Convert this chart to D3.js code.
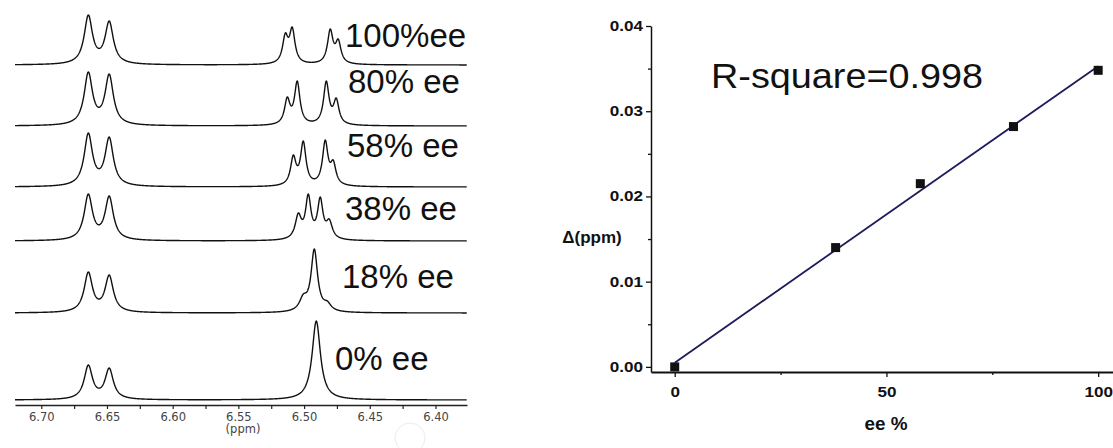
<!DOCTYPE html>
<html>
<head>
<meta charset="utf-8">
<script src="https://cdn.jsdelivr.net/npm/d3@7"></script>
<style>
  html, body { margin: 0; padding: 0; background: #fff; }
  svg { display: block; }
</style>
</head>
<body>
<svg id="fig" width="1113" height="448"></svg>
<script>
// ---------- 1H NMR stack: vinyl region at each enantiomeric excess ----------
const spectraLabels = ["100%ee", "80% ee", "58% ee", "38% ee", "18% ee", "0% ee"];

// peak lists: [shift (ppm), apex intensity, half-width at half-height (ppm)]
const peaks100 = [[6.6642, 50, 0.0038], [6.6483, 44, 0.0038],
                  [6.5143, 32, 0.0025], [6.5090, 38, 0.0025], [6.4801, 36, 0.0025], [6.4740, 26, 0.0025]];
const peaks80  = [[6.6642, 54, 0.0038], [6.6483, 52, 0.0038],
                  [6.5128, 29, 0.0025], [6.5052, 45, 0.0025], [6.4831, 45, 0.0025], [6.4755, 28, 0.0025]];
const peaks58  = [[6.6642, 54, 0.0038], [6.6483, 50, 0.0038],
                  [6.5082, 32, 0.0025], [6.5006, 46, 0.0025], [6.4839, 47, 0.0025], [6.4778, 27, 0.0025]];
const peaks38  = [[6.6642, 47, 0.0038], [6.6483, 45, 0.0038],
                  [6.5044, 28, 0.0028], [6.4968, 47, 0.0025], [6.4877, 44, 0.0025], [6.4808, 22, 0.0028]];
const peaks18  = [[6.6642, 41, 0.0038], [6.6483, 38, 0.0038],
                  [6.5006, 19, 0.0035], [6.4922, 64, 0.0030], [6.4823, 12, 0.0035]];
const peaks0   = [[6.6642, 35, 0.0038], [6.6483, 32, 0.0038],
                  [6.4907, 79, 0.0038]];
const spectraPeaks = [peaks100, peaks80, peaks58, peaks38, peaks18, peaks0];

const ppmTicks = [6.70, 6.65, 6.60, 6.55, 6.50, 6.45, 6.40];
const ppmMinorTicks = [6.675, 6.625, 6.575, 6.525, 6.475, 6.425, 6.375];

// ---------- calibration: chemical-shift difference vs ee ----------
const eeValues    = [0, 38, 58, 80, 100];
const deltaValues = [0.0000, 0.0140, 0.0215, 0.0282, 0.0348];
const deltaTicks  = [0.00, 0.01, 0.02, 0.03, 0.04];
const deltaMinor  = [0.005, 0.015, 0.025, 0.035];
const eeTicks     = [0, 50, 100];
const eeMinor     = [25, 75];
const rSquareText = "R-square=0.998";

const svg = d3.select("#fig");

// ===== left panel =====
const stackOffsets = [335, 274, 213, 159, 87, 0];
const labelPos = [[345, 47], [348, 93], [347, 157], [345, 220], [342, 288], [335, 370]];

const xPpm = d3.scaleLinear().domain([6.72, 6.376]).range([15, 467]);
const yInt = d3.scaleLinear().domain([0, 335]).range([400, 65]);

const lorentz = (x, x0, w) => 1 / (1 + ((x - x0) / w) ** 2);

// amplitudes so that the summed line shape passes through each listed apex
function amplitudes(pk) {
  const n = pk.length;
  const M = pk.map(pi => pk.map(pj => lorentz(pi[0], pj[0], pj[2])));
  const b = pk.map(p => p[1]);
  for (let c = 0; c < n; c++) {
    let piv = c;
    for (let r = c + 1; r < n; r++) if (Math.abs(M[r][c]) > Math.abs(M[piv][c])) piv = r;
    [M[c], M[piv]] = [M[piv], M[c]]; [b[c], b[piv]] = [b[piv], b[c]];
    for (let r = c + 1; r < n; r++) {
      const f = M[r][c] / M[c][c];
      for (let k = c; k < n; k++) M[r][k] -= f * M[c][k];
      b[r] -= f * b[c];
    }
  }
  const a = new Array(n).fill(0);
  for (let r = n - 1; r >= 0; r--) {
    let s = b[r];
    for (let k = r + 1; k < n; k++) s -= M[r][k] * a[k];
    a[r] = s / M[r][r];
  }
  return a.map(v => Math.max(0, v));
}

const grid = d3.range(6.72, 6.376, -0.0002);
const left = svg.append("g");

spectraPeaks.forEach((pk, i) => {
  const amp = amplitudes(pk);
  const pts = grid.map(x => [x, pk.reduce((s, p, j) => s + amp[j] * lorentz(x, p[0], p[2]), 0)]);
  const line = d3.line()
    .x(d => xPpm(d[0]))
    .y(d => yInt(stackOffsets[i] + d[1]));
  left.append("path")
    .attr("d", line(pts))
    .attr("fill", "none")
    .attr("stroke", "#111")
    .attr("stroke-width", 1.4)
    .attr("stroke-linejoin", "round");
  left.append("text")
    .attr("x", labelPos[i][0]).attr("y", labelPos[i][1])
    .attr("font-family", "'Liberation Sans', Arial, sans-serif")
    .attr("font-size", 33)
    .attr("fill", "#111")
    .text(spectraLabels[i]);
});

// shift axis
const axPpm = left.append("g").attr("transform", "translate(0,405)");
axPpm.call(d3.axisBottom(xPpm).tickValues(ppmTicks).tickSize(4).tickSizeOuter(0).tickFormat(d3.format(".2f")));
const axPpmMinor = left.append("g").attr("transform", "translate(0,405)");
axPpmMinor.call(d3.axisBottom(xPpm).tickValues(ppmMinorTicks.filter(v => v > 6.376)).tickSize(4).tickFormat(""));
axPpmMinor.select(".domain").remove();
axPpm.select(".domain").attr("stroke", "#222").attr("stroke-width", 1.6);
left.selectAll(".tick line").attr("stroke", "#222").attr("stroke-width", 1.2);
axPpm.selectAll(".tick text")
  .attr("y", 16).attr("dy", 0)
  .attr("font-family", "'DejaVu Sans', Verdana, sans-serif")
  .attr("font-size", 11.5)
  .attr("fill", "#444");
left.append("text")
  .attr("x", 243).attr("y", 433)
  .attr("text-anchor", "middle")
  .attr("font-family", "'DejaVu Sans', Verdana, sans-serif")
  .attr("font-size", 11.5)
  .attr("fill", "#444")
  .text("(ppm)");
left.append("circle")
  .attr("cx", 410).attr("cy", 438).attr("r", 15)
  .attr("fill", "none").attr("stroke", "#ececec").attr("stroke-width", 1);

// ===== right panel =====
const xEe = d3.scaleLinear().domain([-5.6, 103.5]).range([651, 1113]);
const yDelta = d3.scaleLinear().domain([-0.0006, 0.04]).range([372, 26]);
const right = svg.append("g");
const boldFont = "'Liberation Sans', Arial, sans-serif";

function stretch(sel, k) {
  sel.each(function () {
    const w = this.getComputedTextLength();
    d3.select(this).attr("textLength", w * k).attr("lengthAdjust", "spacingAndGlyphs");
  });
}

const axY = right.append("g").attr("transform", "translate(651,0)");
axY.call(d3.axisLeft(yDelta).tickValues(deltaTicks).tickSize(5).tickPadding(3).tickSizeOuter(0).tickFormat(d3.format(".2f")));
const axYm = right.append("g").attr("transform", "translate(651,0)");
axYm.call(d3.axisLeft(yDelta).tickValues(deltaMinor).tickSize(3).tickFormat(""));
axYm.select(".domain").remove();

const axX = right.append("g").attr("transform", "translate(0,372)");
axX.call(d3.axisBottom(xEe).tickValues(eeTicks).tickSize(5).tickPadding(10).tickSizeOuter(0).tickFormat(d3.format("d")));
const axXm = right.append("g").attr("transform", "translate(0,372)");
axXm.call(d3.axisBottom(xEe).tickValues(eeMinor).tickSize(3).tickFormat(""));
axXm.select(".domain").remove();

right.selectAll(".domain").attr("stroke", "#111");
axY.select(".domain").attr("stroke-width", 1.5);
axX.select(".domain").attr("stroke-width", 2.2);
right.selectAll(".tick line").attr("stroke", "#111").attr("stroke-width", 1.3);
right.selectAll(".tick text")
  .attr("font-family", boldFont)
  .attr("font-weight", "bold")
  .attr("font-size", 14)
  .attr("fill", "#111");
stretch(right.selectAll(".tick text"), 1.22);

// least-squares fit through the calibration points
const mx = d3.mean(eeValues), my = d3.mean(deltaValues);
const slope = d3.sum(eeValues, (x, i) => (x - mx) * (deltaValues[i] - my)) /
              d3.sum(eeValues, x => (x - mx) ** 2);
const intercept = my - slope * mx;
const fitEnds = [0, 100];
right.append("path")
  .attr("d", d3.line().x(d => xEe(d)).y(d => yDelta(intercept + slope * d))(fitEnds))
  .attr("fill", "none")
  .attr("stroke", "#1c1c5a")
  .attr("stroke-width", 1.8);

right.selectAll("rect.pt")
  .data(eeValues.map((x, i) => [x, deltaValues[i]]))
  .join("rect")
  .attr("class", "pt")
  .attr("x", d => xEe(d[0]) - 4.5)
  .attr("y", d => yDelta(d[1]) - 4.5)
  .attr("width", 9).attr("height", 9)
  .attr("fill", "#111");

const rsq = right.append("text")
  .attr("x", 711).attr("y", 88)
  .attr("font-family", boldFont)
  .attr("font-size", 35)
  .attr("fill", "#111")
  .text(rSquareText);
stretch(rsq, 1.08);

right.append("text")
  .attr("x", 592).attr("y", 243)
  .attr("text-anchor", "middle")
  .attr("font-family", boldFont)
  .attr("font-weight", "bold")
  .attr("font-size", 17)
  .attr("fill", "#111")
  .text("Δ(ppm)");

const eeLabel = right.append("text")
  .attr("x", 886).attr("y", 430)
  .attr("text-anchor", "middle")
  .attr("font-family", boldFont)
  .attr("font-weight", "bold")
  .attr("font-size", 18)
  .attr("fill", "#111")
  .text("ee %");
stretch(eeLabel, 1.05);
</script>
</body>
</html>
